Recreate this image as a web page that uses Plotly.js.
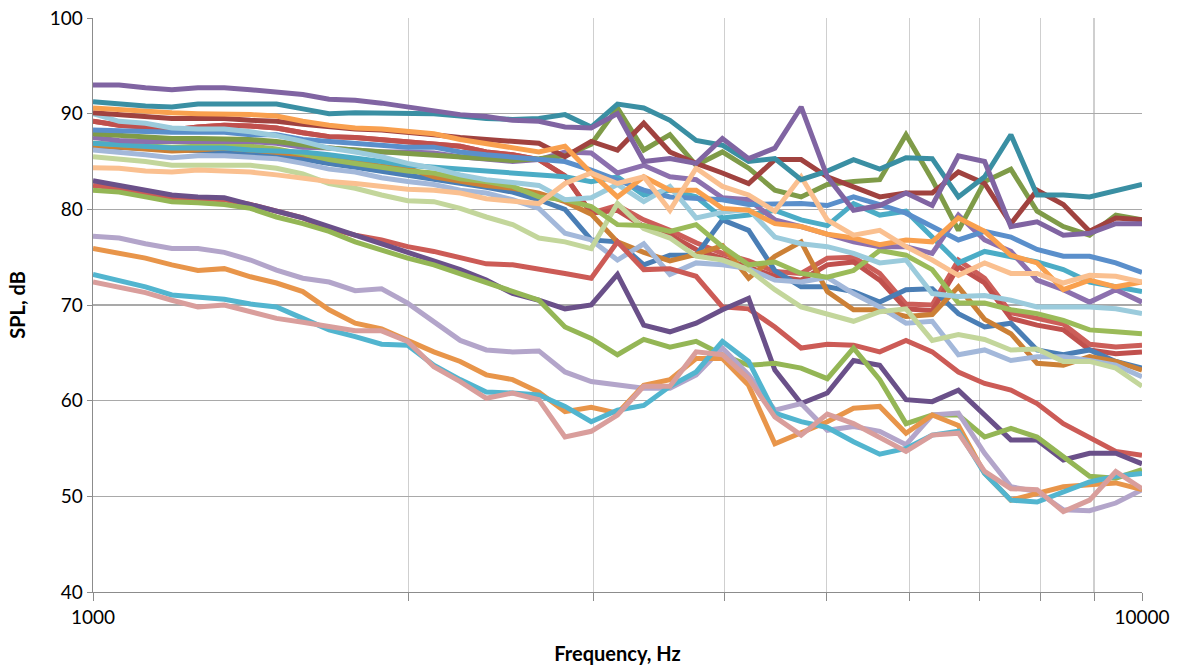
<!DOCTYPE html>
<html>
<head>
<meta charset="utf-8">
<script src="https://cdn.plot.ly/plotly-3.0.1.min.js"></script>
<style>html,body{margin:0;padding:0;background:#fff;}#chart{width:1182px;height:669px;}</style>
</head>
<body>
<div id="chart"></div>
<script>
// 1/12-octave frequencies, Hz
const freqs = [1000, 1059, 1122, 1189, 1259, 1334, 1413, 1496, 1585, 1679, 1778, 1884, 1995, 2113, 2239, 2371, 2512, 2661, 2818, 2985, 3162, 3350, 3548, 3758, 3981, 4217, 4467, 4732, 5012, 5309, 5623, 5957, 6310, 6683, 7079, 7499, 7943, 8414, 8913, 9441, 10000];

const xTickVals = [1000, 2000, 3000, 4000, 5000, 6000, 7000, 8000, 9000, 10000];
const xTickText = ["1000", "", "", "", "", "", "", "", "", "10000"];

// SPL, dB series
const sA = [93.0, 93.0, 92.7, 92.5, 92.7, 92.7, 92.5, 92.2, 92.0, 91.5, 91.4, 91.1, 90.7, 90.4, 89.9, 89.7, 89.3, 89.2, 88.6, 88.5, 90.0, 85.0, 85.3, 84.8, 87.4, 85.3, 86.4, 90.7, 83.4, 79.9, 80.4, 81.7, 80.4, 85.6, 85.0, 78.2, 78.7, 77.3, 77.5, 78.5, 78.5];
const sB = [91.25, 91.0, 90.8, 90.7, 91.0, 91.0, 91.0, 91.0, 90.5, 90.0, 90.1, 90.1, 90.0, 90.0, 89.75, 89.5, 89.4, 89.5, 89.9, 88.6, 91.0, 90.6, 89.3, 87.2, 86.7, 85.0, 85.3, 83.1, 84.0, 85.2, 84.2, 85.4, 85.3, 81.3, 83.4, 87.8, 81.5, 81.5, 81.3, 82.0, 82.6];
const sC = [90.6, 90.4, 90.2, 90.1, 90.0, 90.0, 89.9, 89.75, 89.2, 88.8, 88.5, 88.4, 88.1, 87.9, 87.3, 86.9, 86.5, 86.0, 86.6, 83.8, 81.3, 83.4, 82.0, 82.0, 80.1, 79.9, 78.5, 78.2, 77.4, 77.0, 76.3, 76.8, 76.6, 79.1, 77.7, 75.2, 74.4, 71.6, 72.6, 71.9, 72.4];
const sD = [90.1, 89.9, 89.7, 89.5, 89.5, 89.5, 89.3, 89.2, 88.9, 88.6, 88.4, 88.3, 88.1, 87.8, 87.5, 87.3, 87.2, 86.9, 85.5, 87.1, 86.2, 89.0, 86.0, 84.8, 83.8, 82.7, 85.2, 85.2, 83.4, 82.4, 81.3, 81.7, 81.7, 83.9, 82.7, 78.5, 82.0, 80.5, 77.7, 79.1, 78.9];
const sE = [90.0, 89.2, 89.0, 88.5, 88.4, 88.4, 88.1, 87.7, 87.1, 86.4, 86.0, 85.5, 84.8, 84.3, 83.6, 83.1, 82.8, 82.5, 81.0, 81.2, 82.6, 80.8, 82.4, 79.1, 79.7, 80.0, 77.1, 76.4, 76.1, 75.4, 74.4, 74.7, 71.2, 70.9, 71.0, 70.5, 69.8, 69.8, 69.8, 69.6, 69.1];
const sF = [89.2, 88.8, 88.6, 88.3, 88.6, 88.8, 88.7, 88.5, 88.0, 87.6, 87.5, 87.3, 87.1, 86.9, 86.6, 86.0, 85.7, 85.2, 83.5, 79.6, 79.9, 78.2, 77.3, 75.8, 74.9, 74.0, 73.0, 72.6, 74.2, 74.5, 72.6, 69.6, 69.4, 74.0, 72.3, 68.6, 67.9, 67.4, 65.3, 64.9, 65.1];
const sV = [89.2, 88.8, 88.6, 88.3, 88.6, 88.8, 88.7, 88.5, 88.0, 87.6, 87.5, 87.3, 87.1, 86.9, 86.6, 86.0, 85.7, 85.2, 83.5, 79.6, 80.4, 78.9, 77.8, 76.5, 75.4, 74.6, 73.5, 73.3, 74.9, 75.0, 73.3, 70.1, 70.0, 74.7, 72.8, 69.2, 68.6, 68.0, 65.9, 65.6, 65.8];
const sG = [88.3, 88.2, 88.1, 88.05, 88.05, 88.05, 87.8, 87.8, 87.3, 87.1, 86.9, 86.7, 86.5, 86.5, 86.0, 85.7, 85.5, 85.2, 85.0, 84.1, 83.1, 82.0, 81.3, 81.1, 81.0, 80.5, 80.5, 80.6, 80.4, 81.3, 80.5, 79.6, 78.2, 76.8, 77.7, 77.1, 75.8, 75.1, 75.1, 74.4, 73.4];
const sH = [86.9, 86.8, 86.6, 86.5, 86.6, 86.7, 86.6, 86.3, 85.8, 85.2, 84.8, 84.4, 84.0, 83.8, 83.2, 82.9, 82.4, 81.3, 81.0, 80.3, 78.4, 78.3, 77.7, 78.4, 76.1, 74.2, 74.5, 73.3, 72.9, 73.6, 75.7, 75.2, 73.7, 70.2, 70.2, 69.5, 69.1, 68.4, 67.4, 67.2, 67.0];
const sI = [87.5, 87.2, 87.1, 87.1, 87.1, 87.1, 87.1, 86.9, 86.5, 86.4, 86.2, 86.0, 86.0, 85.9, 85.5, 85.2, 85.0, 85.2, 86.0, 85.9, 83.8, 84.6, 83.4, 83.1, 81.2, 81.0, 78.9, 78.2, 77.4, 76.6, 76.1, 76.1, 75.4, 79.4, 76.8, 75.6, 72.6, 71.6, 70.3, 71.6, 70.3];
const sJ = [86.9, 86.7, 86.5, 86.4, 86.4, 86.4, 86.2, 86.1, 86.0, 85.7, 85.4, 85.0, 84.6, 84.4, 84.2, 84.0, 83.8, 83.6, 83.4, 82.9, 83.4, 81.5, 82.0, 81.3, 79.1, 79.4, 79.9, 78.9, 78.3, 80.6, 79.4, 79.8, 77.1, 74.4, 75.6, 75.1, 74.5, 73.7, 72.4, 71.9, 71.4];
const sK = [86.7, 86.5, 86.3, 86.1, 86.2, 86.4, 86.2, 86.0, 85.7, 85.3, 85.0, 84.5, 84.3, 83.4, 82.9, 82.5, 82.2, 81.7, 80.8, 79.5, 76.6, 75.5, 74.6, 75.3, 76.2, 72.8, 75.1, 76.6, 71.4, 69.5, 69.5, 68.8, 69.0, 71.9, 68.5, 67.0, 63.9, 63.7, 64.6, 64.1, 63.2];
const sL = [86.2, 86.0, 85.7, 85.4, 85.6, 85.6, 85.5, 85.3, 84.8, 84.2, 83.9, 83.3, 82.9, 82.6, 82.0, 81.7, 81.0, 80.1, 77.5, 76.8, 74.7, 76.4, 73.2, 74.4, 74.2, 73.8, 72.6, 72.4, 72.9, 71.2, 69.8, 68.1, 68.3, 64.8, 65.3, 64.2, 64.6, 64.6, 64.2, 63.7, 62.5];
const sM = [85.5, 85.3, 85.0, 84.6, 84.6, 84.7, 84.6, 84.3, 83.7, 82.7, 82.2, 81.5, 80.9, 80.8, 80.1, 79.2, 78.4, 77.0, 76.6, 75.9, 80.6, 78.0, 77.0, 75.1, 74.7, 73.7, 71.6, 69.8, 69.0, 68.3, 69.3, 69.6, 66.3, 66.9, 66.4, 65.3, 65.4, 64.1, 64.1, 63.4, 61.5];
const sN = [84.35, 84.3, 84.0, 83.9, 84.1, 84.0, 83.9, 83.6, 83.2, 82.9, 82.7, 82.4, 82.1, 82.0, 81.7, 81.1, 80.8, 80.6, 82.7, 83.8, 82.7, 83.4, 79.9, 84.3, 82.4, 81.5, 79.8, 83.4, 78.9, 77.3, 77.8, 76.1, 74.7, 73.1, 74.4, 73.3, 73.3, 72.3, 73.1, 73.0, 72.4];
const sO = [83.0, 82.5, 81.9, 81.5, 81.3, 81.2, 80.5, 79.75, 79.1, 78.2, 77.3, 76.4, 75.5, 74.7, 73.7, 72.6, 71.2, 70.5, 69.6, 70.0, 73.2, 67.9, 67.2, 68.1, 69.5, 70.7, 63.2, 59.7, 60.8, 64.2, 63.7, 60.1, 59.9, 61.1, 58.5, 55.9, 55.9, 53.8, 54.5, 54.5, 53.4];
const sP = [82.5, 82.2, 81.7, 81.2, 81.1, 81.0, 80.5, 79.75, 79.1, 78.0, 77.3, 76.8, 76.1, 75.6, 74.9, 74.3, 74.2, 73.8, 73.3, 72.8, 76.6, 73.7, 73.8, 73.0, 69.8, 69.6, 67.7, 65.5, 65.9, 65.8, 65.1, 66.3, 65.1, 63.0, 61.8, 61.1, 59.7, 57.6, 56.2, 54.7, 54.3];
const sQ = [82.0, 81.8, 81.3, 80.8, 80.7, 80.5, 80.1, 79.2, 78.5, 77.7, 76.6, 75.75, 74.9, 74.2, 73.3, 72.4, 71.4, 70.5, 67.7, 66.5, 64.8, 66.4, 65.6, 66.2, 64.8, 63.7, 63.9, 63.4, 62.3, 65.5, 62.2, 57.6, 58.5, 58.5, 56.2, 57.1, 56.2, 54.1, 52.1, 51.9, 52.8];
const sR = [77.2, 77.0, 76.4, 75.9, 75.9, 75.5, 74.7, 73.65, 72.8, 72.4, 71.5, 71.7, 70.2, 68.25, 66.3, 65.3, 65.1, 65.2, 63.0, 62.0, 61.6, 61.3, 61.3, 62.7, 65.5, 62.7, 59.0, 59.7, 56.9, 57.3, 56.8, 55.4, 58.5, 58.7, 54.5, 51.0, 50.5, 48.6, 48.5, 49.3, 50.7];
const sS = [75.9, 75.4, 74.9, 74.2, 73.6, 73.8, 72.95, 72.3, 71.4, 69.5, 68.1, 67.5, 66.3, 65.1, 64.1, 62.7, 62.2, 60.9, 58.85, 59.3, 58.7, 61.6, 62.2, 64.4, 64.4, 61.6, 55.5, 56.6, 57.8, 59.2, 59.4, 56.6, 58.5, 57.4, 52.4, 49.6, 50.3, 51.0, 51.2, 51.4, 50.7];
const sT = [73.2, 72.6, 71.9, 71.05, 70.8, 70.6, 70.1, 69.8, 68.6, 67.4, 66.7, 65.9, 65.8, 63.7, 62.2, 60.9, 60.8, 60.6, 59.4, 57.8, 59.0, 59.5, 61.5, 63.0, 66.2, 64.1, 58.7, 57.8, 57.2, 55.7, 54.4, 55.0, 56.4, 56.8, 52.4, 49.6, 49.4, 50.5, 51.5, 52.1, 52.4];
const sU = [72.4, 71.9, 71.3, 70.5, 69.8, 70.0, 69.3, 68.6, 68.2, 67.8, 67.3, 67.3, 66.2, 63.55, 62.0, 60.25, 60.8, 60.1, 56.2, 56.8, 58.5, 61.5, 61.5, 65.1, 64.8, 62.3, 58.3, 56.4, 58.6, 57.6, 56.2, 54.7, 56.4, 56.6, 52.6, 50.8, 50.7, 48.4, 49.6, 52.6, 50.8];
const sW = [86.6, 86.5, 86.3, 86.2, 86.2, 86.1, 85.9, 85.7, 85.2, 84.8, 84.4, 84.0, 83.6, 83.2, 82.7, 82.3, 81.8, 81.0, 80.0, 76.8, 76.6, 74.2, 75.2, 75.2, 78.9, 77.8, 73.6, 71.9, 71.9, 71.4, 70.3, 71.6, 71.7, 69.1, 67.7, 68.1, 65.3, 64.8, 65.3, 64.1, 63.4];
const sX = [87.9, 87.7, 87.5, 87.4, 87.4, 87.4, 87.3, 87.1, 86.7, 86.4, 86.2, 86.0, 85.8, 85.6, 85.4, 85.2, 85.1, 85.3, 85.6, 86.8, 90.6, 86.2, 87.8, 84.6, 86.0, 84.3, 82.0, 81.3, 82.6, 82.9, 83.1, 87.8, 83.1, 77.8, 82.9, 84.2, 79.8, 78.2, 77.3, 79.4, 78.9];

// drawing order (later = on top) with colours
const seriesList = [
  [sV, "#CC5E59"], [sF, "#C0504D"], [sW, "#4A7EB5"], [sK, "#CC8036"],
  [sL, "#A3B8DA"], [sM, "#C3D69B"], [sH, "#9BBB59"], [sJ, "#4BACC6"],
  [sI, "#8C70AE"], [sX, "#7F9B48"], [sG, "#5A8FCB"], [sE, "#9BCBDC"],
  [sD, "#A0423F"], [sC, "#F9A04E"], [sN, "#FAC090"], [sB, "#3A8FA3"],
  [sA, "#8064A2"], [sP, "#CC5B56"], [sO, "#6A5089"], [sQ, "#94B655"],
  [sR, "#B3A5CA"], [sS, "#E8954A"], [sT, "#52B5CF"], [sU, "#D99E9C"]
];

const traces = seriesList.map(([ys, col]) => ({
  type: "scatter", mode: "lines", x: freqs, y: ys,
  line: {color: col, width: 5},
  hoverinfo: "skip", showlegend: false
}));

const fontFam = "Lato, 'Liberation Sans', sans-serif";
const layout = {
  width: 1182, height: 669,
  margin: {l: 93, r: 40, t: 18, b: 77},
  paper_bgcolor: "#ffffff", plot_bgcolor: "#ffffff",
  showlegend: false,
  font: {family: fontFam, color: "#000"},
  xaxis: {
    type: "log", range: [3, 4],
    tickmode: "array", tickvals: xTickVals, ticktext: xTickText,
    tickfont: {family: fontFam, size: 19, color: "#000"},
    showgrid: true, gridcolor: "#cfcfcf", gridwidth: 1.3,
    showline: true, linecolor: "#8c8c8c", linewidth: 1.3,
    ticks: "outside", ticklen: 8, tickcolor: "#8c8c8c",
    zeroline: false,
    title: {text: "<b>Frequency, Hz</b>", font: {family: fontFam, size: 20, color: "#000"}, standoff: 20}
  },
  yaxis: {
    range: [40, 100], dtick: 10, tick0: 40,
    tickfont: {family: fontFam, size: 19, color: "#000"},
    showgrid: true, gridcolor: "#a9a9a9", gridwidth: 1.3,
    showline: true, linecolor: "#8c8c8c", linewidth: 1.3,
    ticks: "outside", ticklen: 5, tickcolor: "#8c8c8c",
    zeroline: false,
    title: {text: "<b>SPL, dB</b>", font: {family: fontFam, size: 20, color: "#000"}, standoff: 18}
  }
};

Plotly.newPlot("chart", traces, layout, {displayModeBar: false, staticPlot: true});
</script>
</body>
</html>
